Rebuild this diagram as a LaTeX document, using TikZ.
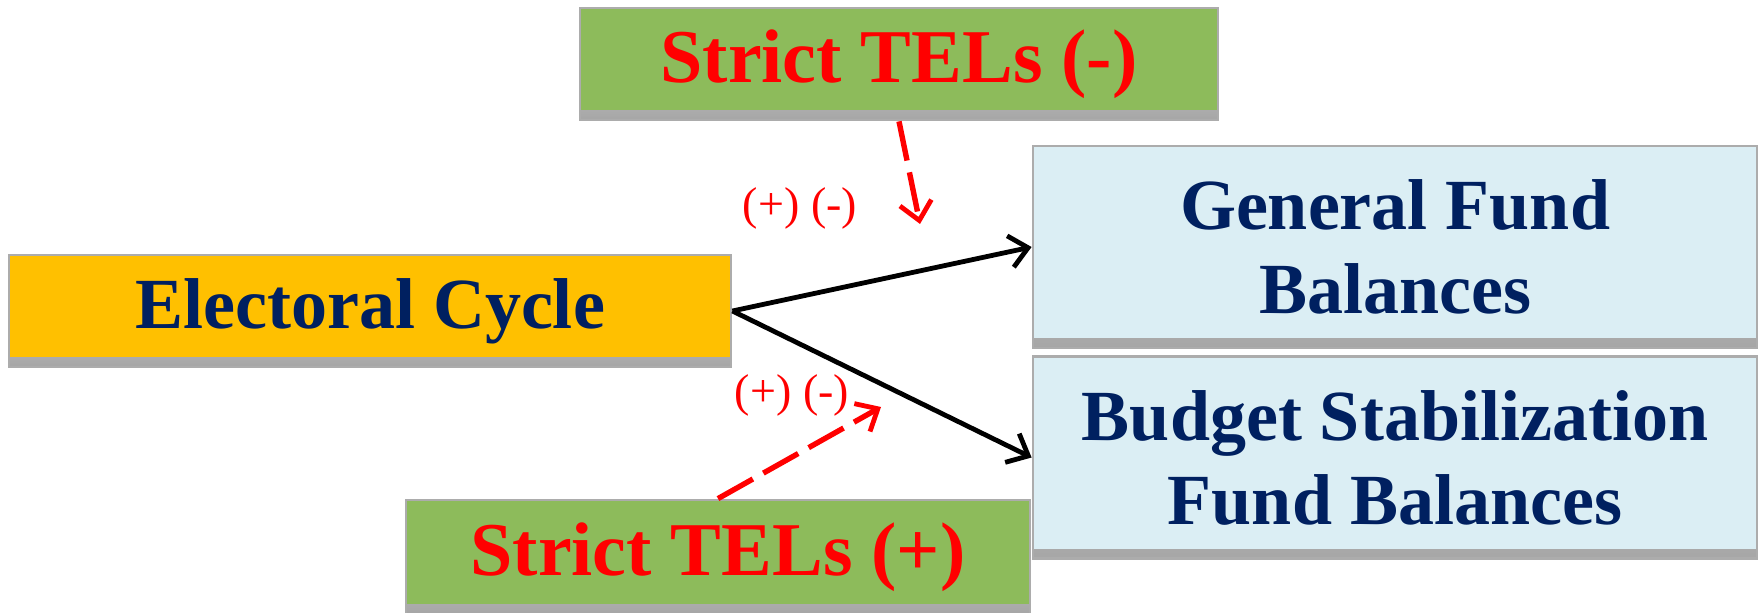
\documentclass[tikz,border=0pt]{standalone}
\usepackage{fontspec}
\setmainfont{Liberation Serif}
\usetikzlibrary{arrows.meta}
\definecolor{telgreen}{RGB}{141,187,91}
\definecolor{cycyellow}{RGB}{255,192,0}
\definecolor{fundblue}{RGB}{219,238,244}
\definecolor{navytext}{RGB}{0,32,96}
\tikzset{
  box/.style={draw=gray!65, line width=1.4pt, inner sep=0pt, align=center,
    path picture={\shade[top color=gray!20, bottom color=gray!70]
      ([yshift=4.5pt]path picture bounding box.south west) rectangle (path picture bounding box.south east);}},
  telbox/.style={box, fill=telgreen, text=red, minimum width=319pt, minimum height=56pt,
    font=\fontsize{38}{42}\selectfont\bfseries},
  fundbox/.style={box, fill=fundblue, text=navytext, minimum width=362pt, minimum height=101pt,
    font=\fontsize{36}{42}\selectfont\bfseries},
  effect/.style={line width=2.4pt, -{Straight Barb[length=9pt,width=16pt,line width=2.4pt]}},
  teleffect/.style={effect, red, line width=2.7pt, dash pattern=on 20pt off 6pt},
  signlabel/.style={text=red, font=\fontsize{23}{26}\selectfont}
}
\begin{document}
\begin{tikzpicture}[x=0.5pt, y=-0.5pt]
\useasboundingbox (0,0) rectangle (1760,613);
% boxes
\node[telbox] (telneg) at (899,64) {Strict TELs (-)};
\node[box, fill=cycyellow, text=navytext, minimum width=361pt, minimum height=56pt,
  font=\fontsize{36}{42}\selectfont\bfseries] (cycle) at (370,311) {Electoral Cycle};
\node[fundbox] (gf) at (1395,247) {General Fund\\Balances};
\node[fundbox] (bsf) at (1395,457.5) {Budget Stabilization\\Fund Balances};
\node[telbox, minimum width=312pt, minimum height=57pt] (telpos) at (718,557) {Strict TELs (+)};
% effects of the cycle
\draw[effect] (cycle.east) -- (gf.west);
\draw[effect] (cycle.east) -- (bsf.west);
% moderating TELs
\coordinate (negtip) at (920,224);
\coordinate (postip) at (881,407);
\draw[teleffect] (telneg.south) -- (negtip);
\draw[teleffect] (telpos.north) -- (postip);
\node[signlabel] (signgf) at (800,208) {(+) (-)};
\node[signlabel] (signbsf) at (792,395) {(+) (-)};
\end{tikzpicture}
\end{document}
